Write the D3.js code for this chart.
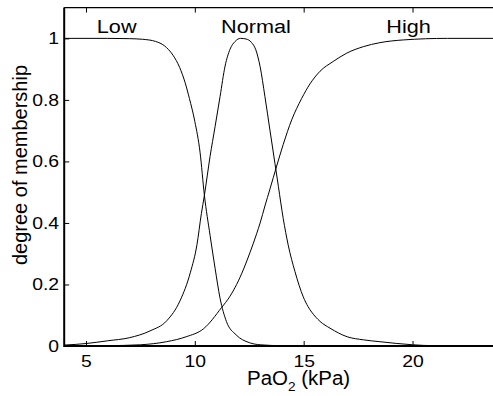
<!DOCTYPE html>
<html>
<head>
<meta charset="utf-8">
<script src="https://cdn.jsdelivr.net/npm/d3@7"></script>
<style>
  body { margin: 0; background: #fff; }
  text { font-family: "Liberation Sans", Arial, Helvetica, sans-serif; fill: #000; }
</style>
</head>
<body>
<div id="chart"></div>
<script>
const svgWidth = 493;
const svgHeight = 396;

// membership curves (PaO2 in kPa -> degree)
const lowX = [4, 6, 7, 7.6, 8.2, 8.6, 9.0, 9.3, 9.55, 9.75, 10.0, 10.24, 10.44, 10.7, 10.93, 11.16, 11.45, 11.9, 12.5, 13.0, 14, 16, 24];
const lowY = [1, 1, 0.999, 0.997, 0.99, 0.976, 0.945, 0.906, 0.857, 0.805, 0.73, 0.63, 0.49, 0.36, 0.253, 0.155, 0.08, 0.036, 0.011, 0.004, 0.001, 0, 0];

const normalX = [4, 5, 6, 7, 7.94, 8.71, 9.32, 9.8, 10.1, 10.3, 10.44, 10.7, 10.93, 11.16, 11.39, 11.62, 11.85, 12.1, 12.35, 12.6, 12.8, 13.0, 13.22, 13.45, 13.68, 13.84, 14.06, 14.29, 14.6, 14.98, 15.2, 15.37, 15.75, 16.21, 17.0, 17.75, 18.5, 20, 21, 24];
const normalY = [0.003, 0.008, 0.017, 0.027, 0.049, 0.082, 0.147, 0.24, 0.33, 0.43, 0.49, 0.616, 0.713, 0.811, 0.91, 0.965, 0.99, 1.0, 0.998, 0.987, 0.963, 0.908, 0.811, 0.702, 0.594, 0.518, 0.415, 0.328, 0.242, 0.16, 0.128, 0.11, 0.08, 0.058, 0.03, 0.02, 0.014, 0.004, 0.001, 0];

const highX = [4, 6, 7.5, 8.7, 9.6, 10.4, 11.23, 11.6, 11.92, 12.24, 12.54, 12.84, 13.0, 13.22, 13.45, 13.76, 14.06, 14.45, 14.91, 15.29, 15.75, 16.36, 16.98, 17.74, 18.5, 19.6, 21.6, 24];
const highY = [0, 0.001, 0.004, 0.014, 0.03, 0.056, 0.125, 0.16, 0.2, 0.25, 0.305, 0.365, 0.4, 0.455, 0.51, 0.585, 0.655, 0.735, 0.805, 0.852, 0.893, 0.925, 0.952, 0.973, 0.986, 0.995, 1.0, 1.0];

const categories = ["Low", "Normal", "High"];
const xTicks = [5, 10, 15, 20];
const yTicks = [0, 0.2, 0.4, 0.6, 0.8, 1];

const series = [
  { name: categories[0], xs: lowX, ys: lowY },
  { name: categories[1], xs: normalX, ys: normalY },
  { name: categories[2], xs: highX, ys: highY }
];

// where the curve names sit (data units)
const labelAt = { Low: 6.41, Normal: 12.81, High: 19.82 };
const stretch = "scale(1.14,1)"; // the reference lettering is a bit wide

const svg = d3.select("#chart")
  .append("svg")
  .attr("width", svgWidth)
  .attr("height", svgHeight);

const x = d3.scaleLinear().domain([4, 24]).range([64.2, 499.6]);
const y = d3.scaleLinear().domain([0, 1.1]).range([346, 7.6]);

const line = d3.line()
  .x(d => x(d[0]))
  .y(d => y(d[1]))
  .curve(d3.curveMonotoneX);

svg.selectAll(".curve")
  .data(series)
  .join("path")
  .attr("class", "curve")
  .attr("fill", "none")
  .attr("stroke", "#000")
  .attr("stroke-width", 1)
  .attr("d", s => line(s.xs.map((v, i) => [v, s.ys[i]])));

// axes, ticks pointing inwards
const xAxis = svg.append("g")
  .attr("transform", `translate(0, ${y(0)})`)
  .call(d3.axisBottom(x).tickValues(xTicks).tickSizeInner(-5).tickSizeOuter(0).tickPadding(9));

const xTop = svg.append("g")
  .attr("transform", `translate(0, ${y(1.1)})`)
  .call(d3.axisTop(x).tickValues(xTicks).tickSizeInner(-5).tickSizeOuter(0).tickFormat(""));

const yAxis = svg.append("g")
  .attr("transform", `translate(${x(4)}, 0)`)
  .call(d3.axisLeft(y).tickValues(yTicks).tickSizeInner(-5).tickSizeOuter(0).tickPadding(4.5)
    .tickFormat(d3.format("~g")));

[xAxis, xTop, yAxis].forEach(g => {
  g.select(".domain").remove();
  g.selectAll(".tick line").attr("stroke", "#000");
  g.selectAll("text")
    .style("font-size", "17px")
    .attr("fill", "#000")
    .attr("transform", stretch);
});

// box
svg.append("line")
  .attr("x1", x(4)).attr("x2", x(24)).attr("y1", y(0)).attr("y2", y(0))
  .attr("stroke", "#000").attr("stroke-width", 2);
svg.append("line")
  .attr("x1", x(4)).attr("x2", x(4)).attr("y1", y(0) + 1).attr("y2", y(1.1))
  .attr("stroke", "#000").attr("stroke-width", 2);
svg.append("line")
  .attr("x1", x(4)).attr("x2", x(24)).attr("y1", y(1.1)).attr("y2", y(1.1))
  .attr("stroke", "#000").attr("stroke-width", 1.3);
svg.append("line")
  .attr("x1", x(24)).attr("x2", x(24)).attr("y1", y(0)).attr("y2", y(1.1))
  .attr("stroke", "#000").attr("stroke-width", 1.3);

// curve names
svg.selectAll(".name")
  .data(categories)
  .join("text")
  .attr("class", "name")
  .attr("transform", d => `translate(${x(labelAt[d])}, ${y(1.016)}) ${stretch}`)
  .attr("text-anchor", "middle")
  .style("font-size", "19px")
  .text(d => d);

// axis titles
const xLabel = svg.append("text")
  .attr("transform", "translate(247, 385) scale(1.05,1)")
  .style("font-size", "19.5px");
xLabel.append("tspan").text("PaO");
xLabel.append("tspan").attr("dy", 6).style("font-size", "13px").text("2");
xLabel.append("tspan").attr("dy", -6).text(" (kPa)");

svg.append("text")
  .attr("transform", "translate(26.5, 165) rotate(-90)")
  .attr("text-anchor", "middle")
  .style("font-size", "20px")
  .text("degree of membership");
</script>
</body>
</html>
